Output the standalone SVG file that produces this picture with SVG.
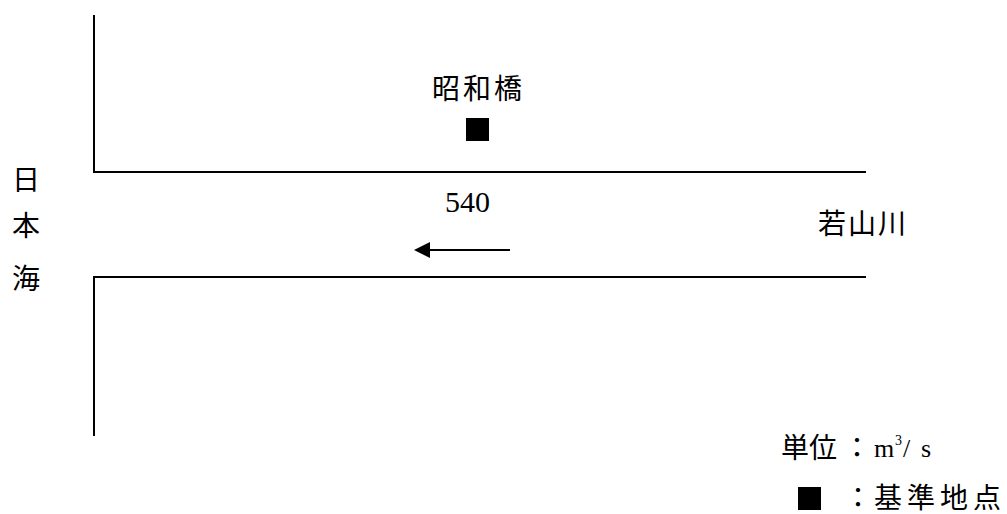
<svg xmlns="http://www.w3.org/2000/svg" width="1007" height="514" viewBox="0 0 1007 514">
<style>
.ln{stroke:#000;stroke-width:2;fill:none}
.t{font-family:"Noto Sans CJK JP","Liberation Serif",serif;font-size:28px;fill:#000}
.n{font-family:"Liberation Serif","Noto Sans CJK JP",serif;font-size:30px;fill:#000}
.s{font-family:"Liberation Serif",serif;font-size:26px;fill:#000}
.sup{font-family:"Liberation Serif",serif;font-size:14px;fill:#000}
</style>
<rect width="1007" height="514" fill="#fff"/>
<g id="banks">
<path class="ln" d="M94,15 V172 H866"/>
<path class="ln" d="M866,277 H94 V436"/>
</g>
<g id="sea">
<text class="t" x="26" y="190" text-anchor="middle">日</text>
<text class="t" x="26" y="236" text-anchor="middle">本</text>
<text class="t" x="26" y="289" text-anchor="middle">海</text>
</g>
<g id="showa-bridge">
<text class="t" x="432" y="99" letter-spacing="3">昭和橋</text>
<rect x="466" y="118" width="23" height="23" fill="#000"/>
</g>
<g id="connectors">
<line class="ln" x1="510" y1="250" x2="428" y2="250"/>
<polygon points="414,250 430,242 430,258" fill="#000"/>
</g>
<g id="flow-label">
<text class="n" x="445" y="212">540</text>
</g>
<g id="river">
<text class="t" x="818" y="234" letter-spacing="2">若山川</text>
</g>
<g id="legend">
<text class="t" x="781" y="458">単位</text>
<text class="t" x="843" y="458">：</text>
<text class="s" x="874" y="457">m</text>
<text class="sup" x="895" y="445">3</text>
<text class="s" x="903" y="457">/</text>
<text class="s" x="921" y="457">s</text>
<rect x="798" y="487" width="23" height="23" fill="#000"/>
<text class="t" x="844" y="508">：</text>
<text class="t" x="874" y="508" letter-spacing="5">基準地点</text>
</g>
</svg>
